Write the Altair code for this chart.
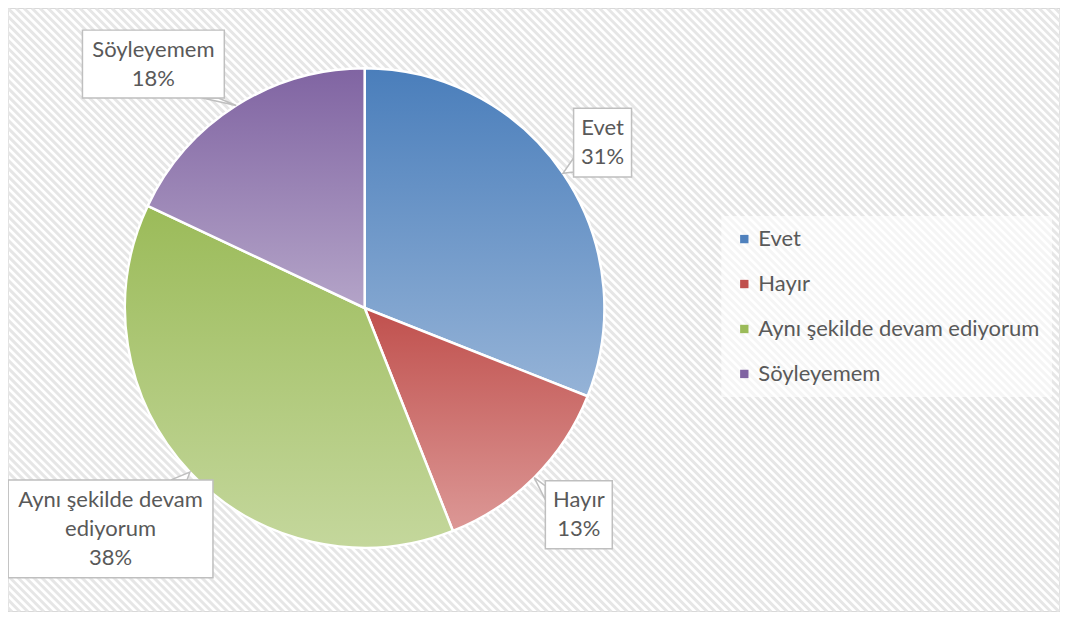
import math
import altair as alt
import pandas as pd

# ---- data ----
categories = ["Evet", "Hayır", "Aynı şekilde devam ediyorum", "Söyleyemem"]
values = [31, 13, 38, 18]
box_texts = ["Evet", "Hayır", "Aynı şekilde devam\nediyorum", "Söyleyemem"]

# ---- style / layout ----
solid_colors = ["#4F81BD", "#C0504D", "#9BBB59", "#8064A2"]
grad_top = ["#4a7ebb", "#c0504d", "#9bbb59", "#8064a2"]
grad_bottom = ["#95b3d7", "#dc9896", "#c4d79c", "#b4a4c8"]
label_radius = [290, 298, 337, 323]
label_shift_deg = [-0.6, -1.0, 2.2, -8.5]
box_w = [58, 67, 205, 142]
box_h = [69, 68, 98, 68]
W, H = 1053, 604
CX, CY, R = 357, 300, 240
FONT = "Lato"
TXT = "#595959"
LINE_H = 29

df = pd.DataFrame({"cat": categories, "value": values, "idx": range(len(categories))})

# label / callout geometry derived from the values
total = sum(values)
rows_box, rows_tail = [], []
cum = 0
for i, (c, v) in enumerate(zip(categories, values)):
    mid = 2 * math.pi * (cum + v / 2) / total
    cum += v
    ang = mid + math.radians(label_shift_deg[i])
    lx = CX + label_radius[i] * math.sin(ang)
    ly = CY - label_radius[i] * math.cos(ang)
    tx = CX + R * math.sin(mid)
    ty = CY - R * math.cos(mid)
    w, h = box_w[i], box_h[i]
    x0, x1, y0, y1 = lx - w / 2, lx + w / 2, ly - h / 2, ly + h / 2
    label = box_texts[i] + "\n" + f"{round(100 * v / total)}%"
    nlines = label.count("\n") + 1
    rows_box.append({"cat": c, "x0": x0, "x1": x1, "y0": y0, "y1": y1, "lx": lx,
                     "ly": ly - (nlines - 1) * LINE_H / 2, "label": label})
    dx, dy = tx - lx, ty - ly
    tvx = (w / 2) / abs(dx) if dx else 1e9
    tvy = (h / 2) / abs(dy) if dy else 1e9
    t = min(tvx, tvy)
    ex, ey = lx + t * dx, ly + t * dy
    if tvx < tvy:
        ey = min(max(ey, y0 + 12), y1 - 12)
        b1, b2 = (ex, ey - 7), (ex, ey + 7)
    else:
        ex = min(max(ex, x0 + 14), x1 - 14)
        b1, b2 = (ex - 8, ey), (ex + 8, ey)
    for k, (px, py) in enumerate([b1, (tx, ty), b2]):
        rows_tail.append({"cat": c, "k": k, "px": px, "py": py})

box_df = pd.DataFrame(rows_box)
tail_df = pd.DataFrame(rows_tail)

def grad(top, bottom):
    return {"gradient": "linear", "x1": 0, "y1": 0, "x2": 0, "y2": 1,
            "stops": [{"offset": 0, "color": top}, {"offset": 1, "color": bottom}]}

fill_def = {
    "condition": [
        {"test": f"datum.cat === '{c}'", "value": grad(grad_top[i], grad_bottom[i])}
        for i, c in enumerate(categories[:-1])
    ],
    "value": grad(grad_top[-1], grad_bottom[-1]),
}

hatch = alt.Chart(alt.sequence(-80, 136, 1, as_="k")).transform_calculate(
    x="datum.k*8", x2="datum.k*8+604", y="0", y2="604"
).mark_rule(stroke="#e6e6e6", strokeWidth=3, clip=True).encode(
    x=alt.X("x:Q", scale=None), x2="x2:Q", y=alt.Y("y:Q", scale=None), y2="y2:Q"
)

base_arc = alt.Chart(df).mark_arc(radius=R, x=CX, y=CY).encode(
    theta=alt.Theta("value:Q", stack=True),
    order=alt.Order("idx:Q"),
    color=alt.Color(
        "cat:N",
        scale=alt.Scale(domain=categories, range=solid_colors),
        sort=categories,
        legend=alt.Legend(
            orient="none", legendX=714, legendY=208, title=None,
            symbolType="square", symbolSize=70, symbolStrokeWidth=0,
            labelFont=FONT, labelFontSize=22, labelColor=TXT, labelOffset=3,
            rowPadding=23, padding=12, labelLimit=500,
            fillColor="rgba(255,255,255,0.6)",
        ),
    ),
)

grad_arc = alt.Chart(df).mark_arc(radius=R, x=CX, y=CY, stroke="white", strokeWidth=2.5).encode(
    theta=alt.Theta("value:Q", stack=True),
    order=alt.Order("idx:Q"),
    fill=fill_def,
)

tails = alt.Chart(tail_df).mark_line(
    fill="white", stroke="#bfbfbf", strokeWidth=1.5, interpolate="linear-closed"
).encode(
    x=alt.X("px:Q", scale=None), y=alt.Y("py:Q", scale=None),
    detail="cat:N", order="k:Q",
)

boxes = alt.Chart(box_df).mark_rect(fill="white", stroke="#bfbfbf", strokeWidth=1.5).encode(
    x=alt.X("x0:Q", scale=None), x2="x1:Q", y=alt.Y("y0:Q", scale=None), y2="y1:Q"
)

texts = alt.Chart(box_df).mark_text(
    font=FONT, fontSize=22, color=TXT, lineBreak="\n", lineHeight=LINE_H,
    align="center", baseline="middle",
).encode(
    x=alt.X("lx:Q", scale=None), y=alt.Y("ly:Q", scale=None), text="label:N"
)

chart = alt.layer(hatch, base_arc, grad_arc, tails, boxes, texts).properties(
    width=W, height=H, autosize="none", padding=0
).configure_view(stroke="#d9d9d9", strokeWidth=1.5)

chart.save("out.html", embed_options={"renderer": "svg", "actions": False})
